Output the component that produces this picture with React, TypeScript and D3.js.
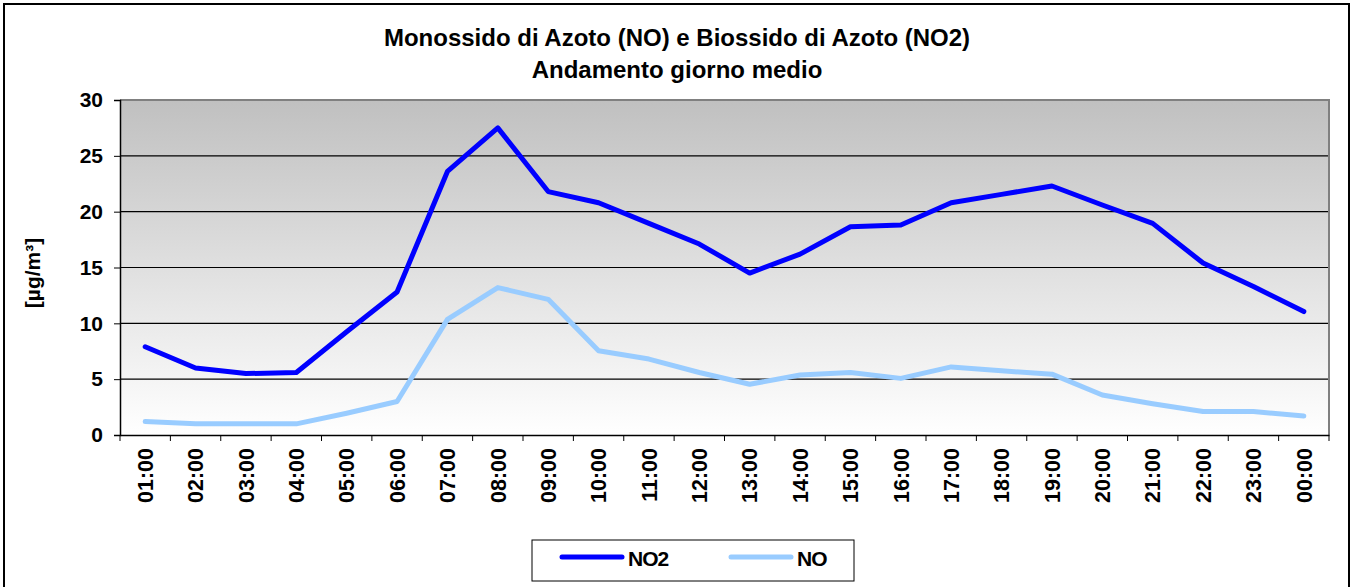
import React, { useEffect, useRef } from "react";
import * as d3 from "d3";

const hours = [
  "01:00", "02:00", "03:00", "04:00", "05:00", "06:00", "07:00", "08:00",
  "09:00", "10:00", "11:00", "12:00", "13:00", "14:00", "15:00", "16:00",
  "17:00", "18:00", "19:00", "20:00", "21:00", "22:00", "23:00", "00:00",
];

const no2Values = [
  7.9, 6.0, 5.5, 5.6, 9.25, 12.8, 23.6, 27.5, 21.8, 20.8, 18.95, 17.1,
  14.5, 16.2, 18.65, 18.8, 20.8, 21.55, 22.3, 20.6, 18.95, 15.4, 13.3, 11.05,
];

const noValues = [
  1.2, 1.0, 1.0, 1.0, 1.95, 3.0, 10.35, 13.2, 12.15, 7.55, 6.8, 5.6,
  4.55, 5.37, 5.6, 5.07, 6.1, 5.75, 5.45, 3.58, 2.8, 2.1, 2.1, 1.7,
];

const yTicks = [0, 5, 10, 15, 20, 25, 30];

const series = [
  { name: "NO2", values: no2Values, color: "#0000ff" },
  { name: "NO", values: noValues, color: "#99ccff" },
];

const App = () => {
  const ref = useRef<SVGSVGElement>(null);

  useEffect(() => {
    const width = 1354;
    const height = 587;
    const font = "Arial, 'Liberation Sans', sans-serif";
    const svg = d3.select(ref.current)
      .attr("width", width)
      .attr("height", height)
      .style("font-family", font);
    svg.selectAll("*").remove();

    // outer frame
    svg.append("rect")
      .attr("x", 4).attr("y", 4)
      .attr("width", 1345).attr("height", 590)
      .attr("fill", "#fff")
      .attr("stroke", "#000")
      .attr("stroke-width", 2);

    const m = { left: 120, top: 100, right: 1329, bottom: 435 };

    const x = d3.scaleBand().domain(hours).range([m.left, m.right]);
    const y = d3.scaleLinear().domain([0, 30]).range([m.bottom, m.top]);

    const defs = svg.append("defs");
    const grad = defs.append("linearGradient")
      .attr("id", "bg").attr("x1", 0).attr("y1", 0).attr("x2", 0).attr("y2", 1);
    grad.append("stop").attr("offset", "0%").attr("stop-color", "#c0c0c0");
    grad.append("stop").attr("offset", "100%").attr("stop-color", "#ffffff");

    svg.append("rect")
      .attr("x", m.left).attr("y", m.top)
      .attr("width", m.right - m.left).attr("height", m.bottom - m.top)
      .attr("fill", "url(#bg)");

    // gridlines
    svg.append("g")
      .selectAll("line")
      .data(yTicks.filter(t => t > 0 && t < 30))
      .join("line")
      .attr("x1", m.left).attr("x2", m.right)
      .attr("y1", d => y(d)).attr("y2", d => y(d))
      .attr("stroke", "#000").attr("stroke-width", 1.2);

    // plot border top/right in gray
    svg.append("path")
      .attr("d", `M${m.left},${m.top}H${m.right}V${m.bottom}`)
      .attr("fill", "none").attr("stroke", "#808080").attr("stroke-width", 2);

    // y axis
    const yAxis = svg.append("g")
      .attr("transform", `translate(${m.left},0)`)
      .call(d3.axisLeft(y).tickValues(yTicks).tickSize(6).tickPadding(11));
    yAxis.select(".domain").attr("stroke", "#000").attr("stroke-width", 1.5);
    yAxis.selectAll(".tick line").attr("stroke", "#000");
    yAxis.selectAll("text")
      .attr("fill", "#000")
      .style("font-family", font)
      .style("font-size", "21px")
      .style("font-weight", "bold");

    // x axis
    const xAxis = svg.append("g")
      .attr("transform", `translate(0,${m.bottom})`)
      .call(d3.axisBottom(x).tickSize(0).tickPadding(0));
    xAxis.select(".domain").attr("stroke", "#000").attr("stroke-width", 1.5);
    xAxis.selectAll(".tick text")
      .attr("fill", "#000")
      .attr("transform", "rotate(-90)")
      .attr("x", -13)
      .attr("y", 0)
      .attr("dy", "0.36em")
      .style("text-anchor", "end")
      .style("font-family", font)
      .style("font-size", "21.5px")
      .style("font-weight", "bold");
    // ticks at category boundaries
    const bounds = hours.map(h => x(h) as number).concat([m.right]);
    svg.append("g")
      .selectAll("line")
      .data(bounds)
      .join("line")
      .attr("x1", d => d).attr("x2", d => d)
      .attr("y1", m.bottom).attr("y2", m.bottom + 6)
      .attr("stroke", "#000").attr("stroke-width", 1);

    // lines
    const line = d3.line<number>()
      .x((_, i) => (x(hours[i]) as number) + x.bandwidth() / 2)
      .y(d => y(d));
    svg.append("g")
      .selectAll("path")
      .data([...series].reverse())
      .join("path")
      .attr("d", d => line(d.values))
      .attr("fill", "none")
      .attr("stroke", d => d.color)
      .attr("stroke-width", 5)
      .attr("stroke-linejoin", "round")
      .attr("stroke-linecap", "round");

    // title
    const title = svg.append("text")
      .attr("text-anchor", "middle")
      .attr("fill", "#000")
      .style("font-size", "24px")
      .style("font-weight", "bold");
    title.append("tspan").attr("x", 677).attr("y", 46)
      .text("Monossido di Azoto (NO) e Biossido di Azoto (NO2)");
    title.append("tspan").attr("x", 677).attr("y", 78)
      .text("Andamento giorno medio");

    // y label
    svg.append("text")
      .attr("transform", `translate(40,${273}) rotate(-90)`)
      .attr("text-anchor", "middle")
      .attr("fill", "#000")
      .style("font-size", "21px")
      .style("font-weight", "bold")
      .text("[µg/m³]");

    // legend
    const lg = svg.append("g");
    lg.append("rect")
      .attr("x", 532).attr("y", 540)
      .attr("width", 322).attr("height", 41)
      .attr("fill", "#fff").attr("stroke", "#000").attr("stroke-width", 1);
    const items = [
      { s: series[0], x0: 562, tx: 628 },
      { s: series[1], x0: 731, tx: 797 },
    ];
    items.forEach(it => {
      lg.append("line")
        .attr("x1", it.x0).attr("x2", it.x0 + 60)
        .attr("y1", 557).attr("y2", 557)
        .attr("stroke", it.s.color).attr("stroke-width", 5)
        .attr("stroke-linecap", "round");
      lg.append("text")
        .attr("x", it.tx).attr("y", 566)
        .attr("fill", "#000")
        .style("font-size", "21px")
        .style("font-weight", "bold")
        .style("letter-spacing", "-1px")
        .text(it.s.name);
    });
  }, []);

  return (
    <div style={{ position: "absolute", left: 0, top: 0 }}>
      <svg ref={ref}></svg>
    </div>
  );
};

export default App;
